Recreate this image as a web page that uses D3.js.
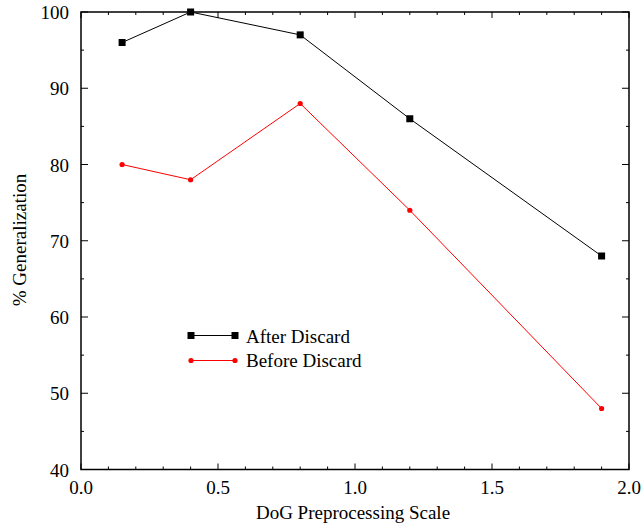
<!DOCTYPE html>
<html><head><meta charset="utf-8">
<script src="https://cdn.jsdelivr.net/npm/d3@7"></script>
<style>body{margin:0;background:#fff}svg{display:block}text{font-family:"Liberation Serif","Times New Roman",serif;fill:#000}</style>
</head><body><svg id="c" width="642" height="529"></svg>
<script>
const scales = [0.15, 0.4, 0.8, 1.2, 1.9];
const afterDiscard = [96, 100, 97, 86, 68];
const beforeDiscard = [80, 78, 88, 74, 48];
const xTicks = [0.0, 0.5, 1.0, 1.5, 2.0];
const yTicks = [40, 50, 60, 70, 80, 90, 100];
const seriesNames = ["After Discard", "Before Discard"];

const svg = d3.select("#c");
const L = 81, R = 629, T = 12, B = 469.5;
const x = d3.scaleLinear().domain([0, 2]).range([L, R]);
const y = d3.scaleLinear().domain([40, 100]).range([B, T]);
const FS = 19;

// frame
svg.append("rect").attr("x", L).attr("y", T).attr("width", R - L).attr("height", B - T)
  .attr("fill", "none").attr("stroke", "#000").attr("stroke-width", 1.5);

// ticks
const g = svg.append("g").attr("stroke", "#000").attr("stroke-width", 1);
d3.range(0, 2.001, 0.1).forEach(v => {
  const major = Math.abs(v * 2 - Math.round(v * 2)) < 1e-6;
  const len = major ? 6 : 3;
  g.append("line").attr("x1", x(v)).attr("x2", x(v)).attr("y1", B).attr("y2", B - len);
  g.append("line").attr("x1", x(v)).attr("x2", x(v)).attr("y1", T).attr("y2", T + len);
});
d3.range(40, 100.001, 5).forEach(v => {
  const major = v % 10 === 0;
  const len = major ? 7 : 3;
  g.append("line").attr("y1", y(v)).attr("y2", y(v)).attr("x1", L).attr("x2", L + len);
  g.append("line").attr("y1", y(v)).attr("y2", y(v)).attr("x1", R).attr("x2", R - len);
});

// tick labels
svg.selectAll(".xt").data(xTicks).enter().append("text")
  .attr("x", d => x(d)).attr("y", 494).attr("text-anchor", "middle")
  .attr("font-size", FS).text(d => d.toFixed(1));
svg.selectAll(".yt").data(yTicks).enter().append("text")
  .attr("x", 69).attr("y", d => y(d) + 7).attr("text-anchor", "end")
  .attr("font-size", FS).text(d => d);

// axis titles
svg.append("text").attr("x", 353).attr("y", 519).attr("text-anchor", "middle")
  .attr("font-size", FS).text("DoG Preprocessing Scale");
svg.append("text").attr("transform", `translate(26,240) rotate(-90)`)
  .attr("text-anchor", "middle").attr("font-size", FS).text("% Generalization");

const line = d3.line().x(d => x(d[0])).y(d => y(d[1]));
const A = scales.map((s, i) => [s, afterDiscard[i]]);
const Bf = scales.map((s, i) => [s, beforeDiscard[i]]);

svg.append("path").attr("d", line(A)).attr("fill", "none").attr("stroke", "#000").attr("stroke-width", 1);
svg.selectAll(".ma").data(A).enter().append("rect")
  .attr("x", d => x(d[0]) - 3.5).attr("y", d => y(d[1]) - 3.5).attr("width", 7).attr("height", 7).attr("fill", "#000");

svg.append("path").attr("d", line(Bf)).attr("fill", "none").attr("stroke", "#ff0000").attr("stroke-width", 1);
svg.selectAll(".mb").data(Bf).enter().append("circle")
  .attr("cx", d => x(d[0])).attr("cy", d => y(d[1])).attr("r", 2.6).attr("fill", "#ff0000");

// legend
const lg = svg.append("g");
lg.append("line").attr("x1", 191).attr("x2", 235).attr("y1", 335.5).attr("y2", 335.5).attr("stroke", "#000");
lg.append("rect").attr("x", 187.5).attr("y", 332).attr("width", 7).attr("height", 7);
lg.append("rect").attr("x", 231.5).attr("y", 332).attr("width", 7).attr("height", 7);
lg.append("text").attr("x", 246).attr("y", 343).attr("font-size", FS).text(seriesNames[0]);
lg.append("line").attr("x1", 191).attr("x2", 235).attr("y1", 360.5).attr("y2", 360.5).attr("stroke", "#ff0000");
lg.append("circle").attr("cx", 191).attr("cy", 360.5).attr("r", 2.6).attr("fill", "#ff0000");
lg.append("circle").attr("cx", 235).attr("cy", 360.5).attr("r", 2.6).attr("fill", "#ff0000");
lg.append("text").attr("x", 246).attr("y", 367).attr("font-size", FS).text(seriesNames[1]);
</script></body></html>
